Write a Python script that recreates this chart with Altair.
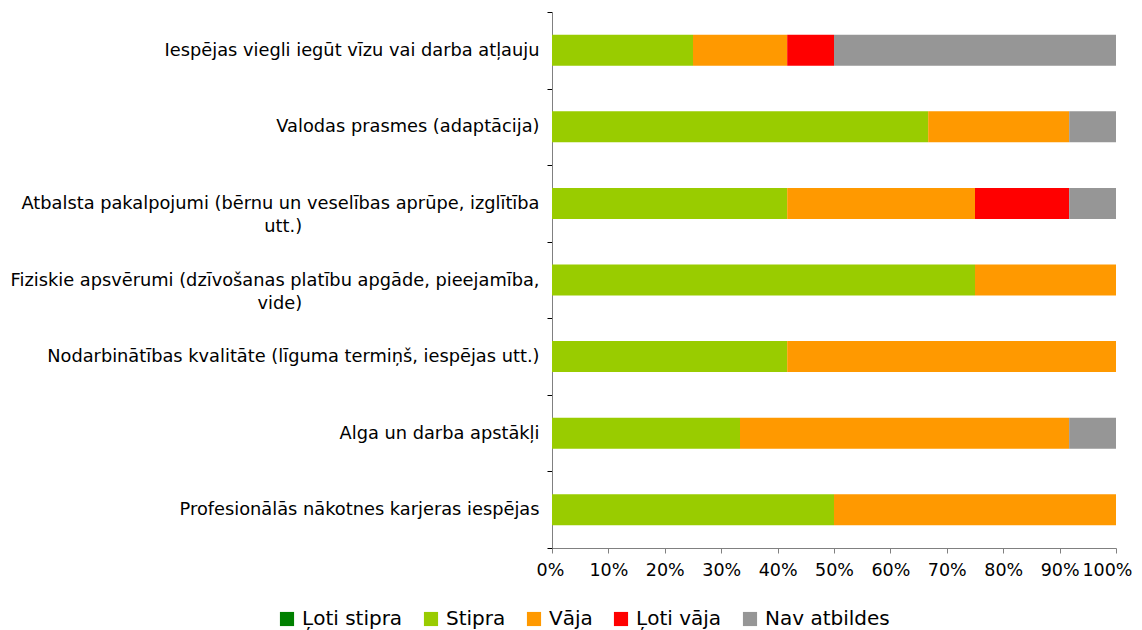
import altair as alt
import pandas as pd

categories = [
    "Iespējas viegli iegūt vīzu vai darba atļauju",
    "Valodas prasmes (adaptācija)",
    "Atbalsta pakalpojumi (bērnu un veselības aprūpe, izglītība|utt.)",
    "Fiziskie apsvērumi (dzīvošanas platību apgāde, pieejamība,|vide)",
    "Nodarbinātības kvalitāte (līguma termiņš, iespējas utt.)",
    "Alga un darba apstākļi",
    "Profesionālās nākotnes karjeras iespējas",
]
series = ["Ļoti stipra", "Stipra", "Vāja", "Ļoti vāja", "Nav atbildes"]
colors = ["#008000", "#99CC00", "#FF9900", "#FF0000", "#969696"]

loti_stipra = [0, 0, 0, 0, 0, 0, 0]
stipra = [25.0, 66.7, 41.7, 75.0, 41.7, 33.3, 50.0]
vaja = [16.7, 25.0, 33.3, 25.0, 58.3, 58.3, 50.0]
loti_vaja = [8.3, 0, 16.7, 0, 0, 0, 0]
nav_atbildes = [50.0, 8.3, 8.3, 0, 0, 8.3, 0]

values = [loti_stipra, stipra, vaja, loti_vaja, nav_atbildes]
rows = []
for si, (s, vals) in enumerate(zip(series, values)):
    for c, v in zip(categories, vals):
        if v > 0:
            rows.append({"cat": c, "series": s, "value": v, "order": si})
df = pd.DataFrame(rows)

FONT = "DejaVu Sans"
# trailing no-break spaces (closed by a word joiner) so the short second line
# sits under the middle of the first line
PAD = "\u00a0" * 42 + "\u2060"
label_expr = (
    "indexof(datum.label, '|') >= 0 ? "
    "[split(datum.label, '|')[0], split(datum.label, '|')[1] + '" + PAD + "'] : datum.label"
)

chart = alt.Chart(df).mark_bar(height=alt.RelativeBandSize(0.405)).encode(
    y=alt.Y(
        "cat:N",
        sort=categories,
        scale=alt.Scale(paddingInner=0, paddingOuter=0),
        axis=alt.Axis(
            title=None,
            labelExpr=label_expr,
            labelFont=FONT,
            labelFontSize=17.8,
            labelColor="#000000",
            labelLineHeight=23,
            labelPadding=8,
            labelLimit=600,
            tickBand="extent",
            tickSize=5,
            tickColor="#000000",
            domainColor="#808080",
            grid=False,
        ),
    ),
    x=alt.X(
        "value:Q",
        stack="normalize",
        scale=alt.Scale(domain=[0, 1], nice=False),
        axis=alt.Axis(
            title=None,
            format=".0%",
            values=[0, 0.1, 0.2, 0.3, 0.4, 0.5, 0.6, 0.7, 0.8, 0.9, 1.0],
            labelFont=FONT,
            labelFontSize=17.5,
            labelColor="#000000",
            labelPadding=8,
            tickSize=5,
            tickColor="#808080",
            domainColor="#808080",
            grid=False,
            labelFlush=True,
            labelFlushOffset=16,
            labelOverlap=False,
        ),
    ),
    color=alt.Color(
        "series:N",
        scale=alt.Scale(domain=series, range=colors),
        legend=alt.Legend(
            title=None,
            orient="none",
            legendX=-275,
            legendY=597,
            direction="horizontal",
            symbolType="square",
            symbolSize=200,
            symbolStrokeWidth=0,
            labelFont=FONT,
            labelFontSize=20,
            labelColor="#000000",
            labelOffset=5,
            columnPadding=18,
            labelLimit=300,
        ),
    ),
    order=alt.Order("order:Q"),
).properties(
    width=564,
    height=536,
    autosize=alt.AutoSizeParams(type="none"),
    padding={"left": 544, "top": 4, "right": 18, "bottom": 86},
).configure_view(stroke=None)

chart.save("out.html", embed_options={"renderer": "svg", "actions": False})
